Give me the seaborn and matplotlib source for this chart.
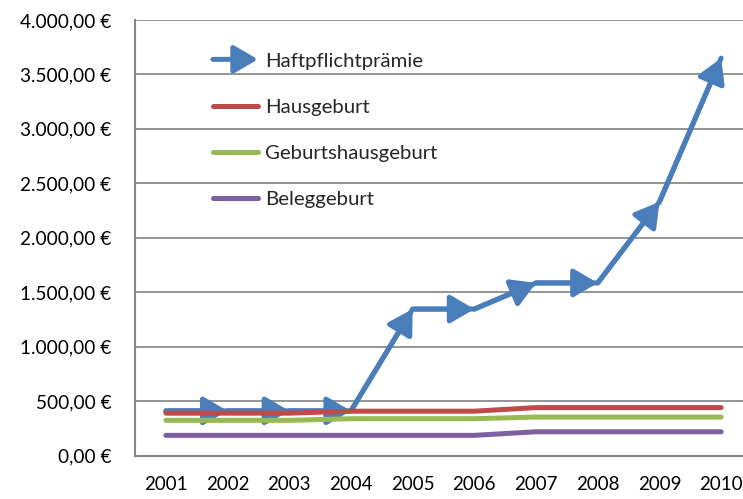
#!/usr/bin/env python

import matplotlib
matplotlib.use('Agg')
import matplotlib.pyplot as plt
from matplotlib.legend_handler import HandlerBase
from matplotlib.lines import Line2D
from matplotlib.patches import FancyArrowPatch
from matplotlib.ticker import FixedLocator, FuncFormatter
import numpy as np
import pandas as pd
import seaborn as sns

years = ['2001', '2002', '2003', '2004', '2005', '2006', '2007', '2008', '2009', '2010']
haftpflicht = [410, 410, 410, 410, 1345, 1345, 1585, 1585, 2330, 3650]
hausgeburt = [389, 389, 389, 407, 407, 407, 440, 440, 440, 440]
geburtshaus = [323, 323, 323, 338, 338, 338, 353, 353, 353, 353]
beleggeburt = [185, 185, 185, 185, 185, 185, 218, 218, 218, 218]

series_names = ['Haftpflichtprämie', 'Hausgeburt', 'Geburtshausgeburt', 'Beleggeburt']
series_values = [haftpflicht, hausgeburt, geburtshaus, beleggeburt]
colors = ['#4A7EBB', '#BE4B48', '#98B954', '#7D60A0']

LINE_W = 3.6
ARROW = '-|>,head_length=14.5,head_width=8.5'


def euro(v, pos):
    s = f'{v:,.2f}'.replace(',', 'X').replace('.', ',').replace('X', '.')
    return s + ' €'


class ArrowHandler(HandlerBase):
    def create_artists(self, legend, orig_handle, xdescent, ydescent,
                       width, height, fontsize, trans):
        y = height / 2 - ydescent
        arr = FancyArrowPatch((-xdescent, y), (-xdescent + width, y),
                              arrowstyle=ARROW, color=orig_handle.get_color(),
                              lw=LINE_W, shrinkA=0, shrinkB=0,
                              transform=trans)
        return [arr]


rows = []
for name, vals in zip(series_names, series_values):
    for i, v in enumerate(vals):
        rows.append({'pos': i, 'value': v, 'series': name})
df = pd.DataFrame(rows)

sns.set_style('white')
plt.rcParams['font.family'] = ['Lato', 'DejaVu Sans']

fig = plt.figure(figsize=(7.43, 4.99), dpi=100)
ax = fig.add_axes([135 / 743, (499 - 455.5) / 499, 617 / 743, 435.5 / 499])

# arrow heads on the first series, drawn under the other lines
xs = np.arange(len(years))
for i in range(1, len(years)):
    ax.annotate('', xy=(xs[i], haftpflicht[i]), xytext=(xs[i - 1], haftpflicht[i - 1]),
                arrowprops=dict(arrowstyle=ARROW, color=colors[0], lw=LINE_W,
                                shrinkA=0, shrinkB=0, mutation_scale=1),
                zorder=1.9)

sns.lineplot(data=df, x='pos', y='value', hue='series', hue_order=series_names,
             palette=colors, linewidth=LINE_W, legend=False, ax=ax,
             solid_capstyle='round', solid_joinstyle='round')

ax.set_xlim(-0.5, len(years) - 0.5)
ax.set_ylim(0, 4000)
ax.set_yticks(np.arange(0, 4001, 500))
ax.yaxis.set_major_formatter(FuncFormatter(euro))
ax.xaxis.set_major_locator(FixedLocator(np.arange(-0.5, len(years), 1.0)))
ax.xaxis.set_minor_locator(FixedLocator(xs))
ax.set_xticklabels([])
ax.set_xticklabels(years, minor=True)
ax.tick_params(axis='x', which='major', length=5, width=1.3, color='#868686', direction='out')
ax.tick_params(axis='x', which='minor', length=0, pad=15, labelsize=13.5, labelcolor='black')
ax.tick_params(axis='y', length=5, width=1.3, color='#868686', direction='out', pad=12,
               labelsize=13.7, labelcolor='black')
ax.set_xlabel('')
ax.set_ylabel('')

ax.grid(axis='y', color='#8C8C8C', linewidth=1.3)
ax.grid(axis='x', visible=False)
ax.set_axisbelow(True)
for side in ['top', 'right']:
    ax.spines[side].set_visible(False)
for side in ['left', 'bottom']:
    ax.spines[side].set_color('#868686')
    ax.spines[side].set_linewidth(1.5)

handles = [Line2D([], [], color=c, lw=LINE_W, solid_capstyle='round') for c in colors]
ax.legend(handles, series_names, loc='upper left', bbox_to_anchor=(0.1264, 0.926),
          frameon=False, fontsize=14.7, handlelength=2.2, handletextpad=0.34,
          labelspacing=1.42, borderpad=0, borderaxespad=0,
          handler_map={handles[0]: ArrowHandler()})

fig.savefig('out.png', dpi=100)
plt.close(fig)
